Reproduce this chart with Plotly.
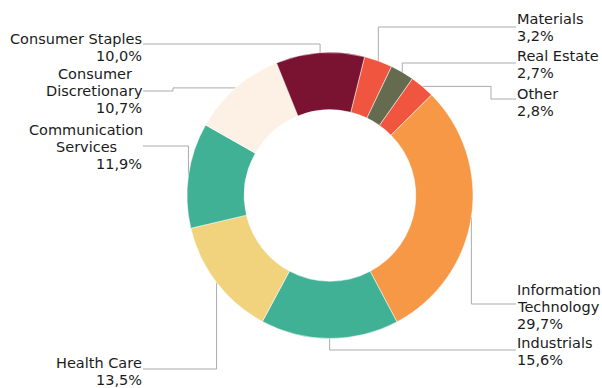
import math
import plotly.graph_objects as go

# Sector weights (clockwise from the first slice)
sectors = ["Materials", "Real Estate", "Other", "Information Technology",
           "Industrials", "Health Care", "Communication Services",
           "Consumer Discretionary", "Consumer Staples"]
weights = [3.2, 2.7, 2.8, 29.7, 15.6, 13.5, 11.9, 10.7, 10.0]
colors = ["#F0563F", "#646B4F", "#F0563F", "#F69846", "#40B195",
          "#F1D37E", "#40B195", "#FCF1E4", "#7A1331"]

# Wrapped label text for each sector
label_lines = {
    "Materials": ["Materials"],
    "Real Estate": ["Real Estate"],
    "Other": ["Other"],
    "Information Technology": ["Information", "Technology"],
    "Industrials": ["Industrials"],
    "Health Care": ["Health Care"],
    "Communication Services": ["Communication", "Services"],
    "Consumer Discretionary": ["Consumer", "Discretionary"],
    "Consumer Staples": ["Consumer Staples"],
}

# Canvas and donut geometry (pixels)
W, H = 602, 388
CX, CY, R = 330.0, 195.5, 143.0
HOLE = 0.6
ROTATION = 14
FONT = "DejaVu Sans, Verdana, sans-serif"
FS = 14.5
LINE_H = 17
TEXT_COLOR = "#1b1b1b"
LEADER_COLOR = "#ababab"
RIGHT_X = 516
LEFT_X = 143

# Label placement: side, text block centre y, leader y, optional elbow x,
# centre x for stacked left-hand names
placement = {
    "Materials": dict(side="r", ty=27.5, ly=27),
    "Real Estate": dict(side="r", ty=64.5, ly=63),
    "Other": dict(side="r", ty=102.5, ly=99, ex=491),
    "Information Technology": dict(side="r", ty=307, ly=304),
    "Industrials": dict(side="r", ty=351.5, ly=350),
    "Health Care": dict(side="l", ty=371.5, ly=369),
    "Communication Services": dict(side="l", ty=147, ly=146, cx=86),
    "Consumer Discretionary": dict(side="l", ty=91, ly=91, ex=173, cx=94.5),
    "Consumer Staples": dict(side="l", ty=47.5, ly=44),
}

fig = go.Figure()

# Leader lines, drawn on a hidden pixel-space axis beneath the donut
total = sum(weights)
lx, ly_pts = [], []
cum = 0.0
for name, v in zip(sectors, weights):
    mid = math.radians(ROTATION + 360.0 * (cum + v / 2.0) / total)
    cum += v
    ax = CX + R * math.sin(mid)
    ay = CY - R * math.cos(mid)
    p = placement[name]
    ex = p.get("ex", ax)
    end_x = RIGHT_X if p["side"] == "r" else LEFT_X
    lx += [ax, ex, ex, end_x, None]
    ly_pts += [ay, ay, p["ly"], p["ly"], None]

fig.add_trace(go.Scatter(
    x=lx, y=ly_pts, mode="lines", hoverinfo="skip", showlegend=False,
    line=dict(color=LEADER_COLOR, width=1),
    xaxis="x", yaxis="y",
))

fig.add_trace(go.Pie(
    labels=sectors, values=weights, sort=False, direction="clockwise",
    rotation=ROTATION, hole=HOLE, textinfo="none",
    marker=dict(colors=colors, line=dict(color="white", width=0.5)),
    domain=dict(x=[(CX - R) / W, (CX + R) / W],
                y=[(H - CY - R) / H, (H - CY + R) / H]),
    showlegend=False,
    hovertemplate="%{label}: %{value:.1f}%<extra></extra>",
))

annotations = []
for name, v in zip(sectors, weights):
    p = placement[name]
    lines = label_lines[name] + [f"{v:.1f}%".replace(".", ",")]
    n = len(lines)
    for i, txt in enumerate(lines):
        y = p["ty"] + (i - (n - 1) / 2.0) * LINE_H
        is_pct = i == n - 1
        if p["side"] == "r":
            x, xa = RIGHT_X, "left"
        elif "cx" in p and not is_pct:
            x, xa = p["cx"], "center"
        else:
            x, xa = LEFT_X, "right"
        annotations.append(dict(
            x=x, y=y, xref="x", yref="y", text=txt, showarrow=False,
            xanchor=xa, yanchor="middle", borderpad=0,
            font=dict(family=FONT, size=FS, color=TEXT_COLOR),
        ))

fig.update_layout(
    width=W, height=H,
    margin=dict(l=0, r=0, t=0, b=0),
    paper_bgcolor="white", plot_bgcolor="rgba(0,0,0,0)",
    xaxis=dict(range=[0, W], visible=False, fixedrange=True, domain=[0, 1]),
    yaxis=dict(range=[H, 0], visible=False, fixedrange=True, domain=[0, 1]),
    annotations=annotations,
    showlegend=False,
)

fig.write_html("out.html", config={"displayModeBar": False})
